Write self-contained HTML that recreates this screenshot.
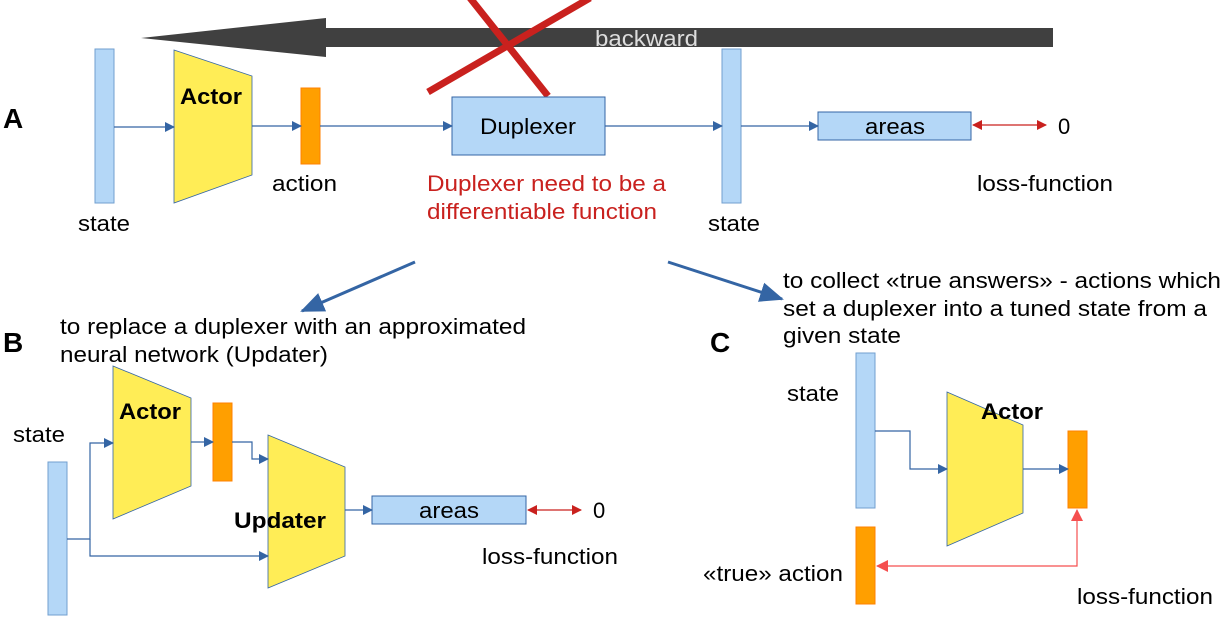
<!DOCTYPE html>
<html><head><meta charset="utf-8"><style>
html,body{margin:0;padding:0;background:#fff}
svg{display:block}
text{font-family:"Liberation Sans",sans-serif;font-size:22px;fill:#000}
.b{font-weight:bold}
</style></head><body>
<svg width="1232" height="617" viewBox="0 0 1232 617" xmlns="http://www.w3.org/2000/svg">
<defs>
<marker id="ab" markerWidth="10" markerHeight="10" refX="9" refY="5" orient="auto" markerUnits="userSpaceOnUse"><path d="M0,0 L10,5 L0,10z" fill="#3465a4"/></marker>
<marker id="ar2" markerWidth="10" markerHeight="10" refX="9" refY="5" orient="auto-start-reverse" markerUnits="userSpaceOnUse"><path d="M0,0 L10,5 L0,10z" fill="#c9211e"/></marker>
<marker id="arl" markerWidth="12" markerHeight="12" refX="11" refY="6" orient="auto-start-reverse" markerUnits="userSpaceOnUse"><path d="M0,0 L12,6 L0,12z" fill="#f54f4f"/></marker>
<marker id="abig" markerWidth="24" markerHeight="20" refX="22" refY="10" orient="auto" markerUnits="userSpaceOnUse"><path d="M0,0 L24,10 L0,20z" fill="#3465a4"/></marker>
</defs>

<path d="M141,38 L326,18 L326,28 L1053,28 L1053,47 L326,47 L326,57 Z" fill="#404040"/>
<text x="595" y="46" style="fill:#ddd" textLength="103" lengthAdjust="spacingAndGlyphs">backward</text>
<line x1="428" y1="92" x2="590" y2="-2" stroke="#c9211e" stroke-width="7"/>
<line x1="470" y1="-2" x2="548" y2="96" stroke="#c9211e" stroke-width="7"/>

<text x="3" y="128" class="b" style="font-size:28px">A</text>
<rect x="95" y="49" width="19" height="154" fill="#b4d7f7" stroke="#729fcf"/>
<text x="78" y="231" textLength="52" lengthAdjust="spacingAndGlyphs">state</text>
<polygon points="174,50 252,76 252,175 174,203" fill="#ffed56" stroke="#3465a4" stroke-width="0.8"/>
<text x="180" y="104" class="b" textLength="62" lengthAdjust="spacingAndGlyphs">Actor</text>
<rect x="301" y="88" width="19" height="76" fill="#ff9f00" stroke="#ff8000"/>
<text x="272" y="191" textLength="65" lengthAdjust="spacingAndGlyphs">action</text>
<rect x="452" y="97" width="153" height="58" fill="#b4d7f7" stroke="#3465a4"/>
<text x="480" y="134" textLength="96" lengthAdjust="spacingAndGlyphs">Duplexer</text>
<rect x="722" y="49" width="19" height="154" fill="#b4d7f7" stroke="#729fcf"/>
<text x="708" y="231" textLength="52" lengthAdjust="spacingAndGlyphs">state</text>
<rect x="818" y="112" width="153" height="28" fill="#b4d7f7" stroke="#3465a4"/>
<text x="865" y="134" textLength="60" lengthAdjust="spacingAndGlyphs">areas</text>
<text x="1058" y="134">0</text>
<text x="977" y="191" textLength="136" lengthAdjust="spacingAndGlyphs">loss-function</text>
<text x="427" y="191" style="fill:#c9211e" textLength="239" lengthAdjust="spacingAndGlyphs">Duplexer need to be a</text>
<text x="427" y="219" style="fill:#c9211e" textLength="230" lengthAdjust="spacingAndGlyphs">differentiable function</text>
<g stroke="#3465a4" stroke-width="1.2" fill="none" marker-end="url(#ab)">
<line x1="114" y1="127" x2="174" y2="127"/>
<line x1="252" y1="126" x2="301" y2="126"/>
<line x1="320" y1="126" x2="452" y2="126"/>
<line x1="605" y1="126" x2="722" y2="126"/>
<line x1="741" y1="126" x2="818" y2="126"/>
</g>
<line x1="973" y1="125" x2="1046" y2="125" stroke="#c9211e" stroke-width="1.2" marker-start="url(#ar2)" marker-end="url(#ar2)"/>

<line x1="415" y1="262" x2="302" y2="311" stroke="#3465a4" stroke-width="3" marker-end="url(#abig)"/>
<line x1="668" y1="262" x2="782" y2="299" stroke="#3465a4" stroke-width="3" marker-end="url(#abig)"/>

<text x="3" y="352" class="b" style="font-size:28px">B</text>
<text x="60" y="334" textLength="466" lengthAdjust="spacingAndGlyphs">to replace a duplexer with an approximated</text>
<text x="60" y="362" textLength="268" lengthAdjust="spacingAndGlyphs">neural network (Updater)</text>
<text x="710" y="352" class="b" style="font-size:28px">C</text>
<text x="783" y="288" textLength="438" lengthAdjust="spacingAndGlyphs">to collect «true answers» - actions which</text>
<text x="783" y="316" textLength="424" lengthAdjust="spacingAndGlyphs">set a duplexer into a tuned state from a</text>
<text x="783" y="343" textLength="118" lengthAdjust="spacingAndGlyphs">given state</text>

<rect x="48" y="462" width="19" height="153" fill="#b4d7f7" stroke="#729fcf"/>
<text x="13" y="442" textLength="52" lengthAdjust="spacingAndGlyphs">state</text>
<polygon points="113,366 191,398 191,486 113,519" fill="#ffed56" stroke="#3465a4" stroke-width="0.8"/>
<text x="119" y="419" class="b" textLength="62" lengthAdjust="spacingAndGlyphs">Actor</text>
<rect x="213" y="403" width="19" height="78" fill="#ff9f00" stroke="#ff8000"/>
<polygon points="268,435 345,467 345,556 268,588" fill="#ffed56" stroke="#3465a4" stroke-width="0.8"/>
<text x="234" y="528" class="b" textLength="92" lengthAdjust="spacingAndGlyphs">Updater</text>
<rect x="372" y="496" width="154" height="28" fill="#b4d7f7" stroke="#3465a4"/>
<text x="419" y="518" textLength="60" lengthAdjust="spacingAndGlyphs">areas</text>
<text x="593" y="518">0</text>
<text x="482" y="564" textLength="136" lengthAdjust="spacingAndGlyphs">loss-function</text>
<g stroke="#3465a4" stroke-width="1.2" fill="none">
<polyline points="67,539 90,539 90,443 113,443" marker-end="url(#ab)"/>
<polyline points="90,539 90,556 268,556" marker-end="url(#ab)"/>
<line x1="191" y1="442" x2="213" y2="442" marker-end="url(#ab)"/>
<polyline points="232,442 252,442 252,459 268,459" marker-end="url(#ab)"/>
<line x1="345" y1="510" x2="372" y2="510" marker-end="url(#ab)"/>
</g>
<line x1="528" y1="510" x2="581" y2="510" stroke="#c9211e" stroke-width="1.2" marker-start="url(#ar2)" marker-end="url(#ar2)"/>

<rect x="856" y="353" width="19" height="155" fill="#b4d7f7" stroke="#729fcf"/>
<text x="787" y="401" textLength="52" lengthAdjust="spacingAndGlyphs">state</text>
<polygon points="947,392 1023,425 1023,513 947,546" fill="#ffed56" stroke="#3465a4" stroke-width="0.8"/>
<text x="981" y="419" class="b" textLength="62" lengthAdjust="spacingAndGlyphs">Actor</text>
<rect x="1068" y="431" width="19" height="77" fill="#ff9f00" stroke="#ff8000"/>
<rect x="856" y="527" width="19" height="77" fill="#ff9f00" stroke="#ff8000"/>
<text x="703" y="581" textLength="140" lengthAdjust="spacingAndGlyphs">«true» action</text>
<text x="1077" y="604" textLength="136" lengthAdjust="spacingAndGlyphs">loss-function</text>
<g stroke="#3465a4" stroke-width="1.2" fill="none">
<polyline points="875,431 910,431 910,469 947,469" marker-end="url(#ab)"/>
<line x1="1023" y1="469" x2="1068" y2="469" marker-end="url(#ab)"/>
</g>
<polyline points="1077,510 1077,566 877,566" fill="none" stroke="#f54f4f" stroke-width="1.2" marker-start="url(#arl)" marker-end="url(#arl)"/>
</svg>
</body></html>
